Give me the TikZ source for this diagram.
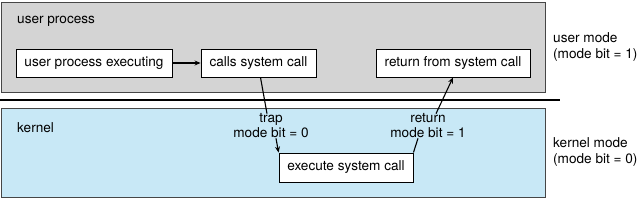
\documentclass[tikz,border=0pt]{standalone}
\usepackage{fontspec}
\setmainfont{TeX Gyre Heros}
\usetikzlibrary{arrows.meta}
\definecolor{usergray}{RGB}{212,212,212}
\definecolor{kernblue}{RGB}{200,232,246}
\definecolor{frameline}{RGB}{70,70,70}
\begin{document}
\begin{tikzpicture}[x=1pt,y=-1pt,
  region/.style={draw=frameline,line width=1pt},
  stepbox/.style={draw=black,fill=white,line width=0.9pt,minimum height=28pt,inner sep=0pt,font=\fontsize{13.6}{15}\selectfont},
  lbl/.style={inner sep=0pt,font=\fontsize{13.6}{15}\selectfont,align=center},
  sidelbl/.style={inner sep=0pt,font=\fontsize{13.6}{15.5}\selectfont,align=left,anchor=west},
  conn/.style={line width=1.1pt},
  arr/.style={conn,-{Stealth[length=6pt,width=5pt]}}
]
\useasboundingbox (0,0) rectangle (640,206);
\fill[white] (0,0) rectangle (640,206);
% regions
\draw[region,fill=usergray] (1.5,2) rectangle (545,92);
\draw[region,fill=kernblue] (1.5,108) rectangle (545,197);
\draw[line width=1.4pt] (0,100) -- (560,100);
% region labels
\node[lbl,anchor=west] (up) at (17,21) {user process};
\node[lbl,anchor=west] (kn) at (17,128) {kernel};
\node[sidelbl] (um) at (553,47) {user mode\\(mode bit = 1)};
\node[sidelbl] (km) at (553,152) {kernel mode\\(mode bit = 0)};
% boxes
\node[stepbox,minimum width=156pt] (upe) at (94,63) {user process executing};
\node[stepbox,minimum width=115pt] (csc) at (258.5,63) {calls system call};
\node[stepbox,minimum width=154pt] (rsc) at (453,63) {return from system call};
\node[stepbox,minimum width=134pt,minimum height=29pt] (esc) at (346,167.5) {execute system call};
% connector labels
\node[lbl] (trap) at (271,126) {trap\\mode bit = 0};
\node[lbl] (ret) at (428,126) {return\\mode bit = 1};
% connectors
\draw[arr] (upe.east) -- (csc.west);
\draw[conn] ([xshift=2pt]csc.south) -- ([xshift=-4pt]trap.north);
\draw[arr] ([xshift=5pt]trap.south) -- (esc.north west);
\draw[conn] (esc.north east) -- ([xshift=-10pt]ret.south);
\draw[arr] ([xshift=8pt]ret.north) -- (rsc.south);
\end{tikzpicture}
\end{document}
